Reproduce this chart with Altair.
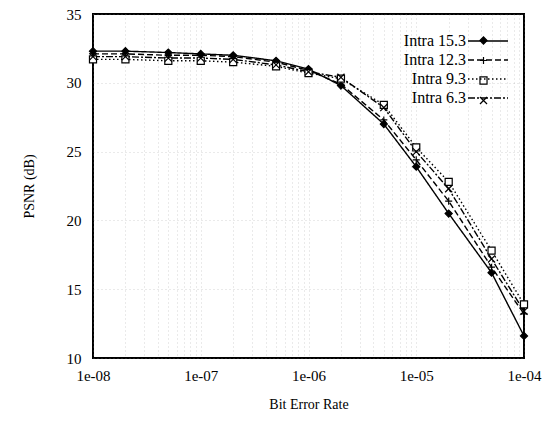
import altair as alt
import pandas as pd

ber = [1e-8, 2e-8, 5e-8, 1e-7, 2e-7, 5e-7, 1e-6, 2e-6, 5e-6, 1e-5, 2e-5, 5e-5, 1e-4]
series_names = ["Intra 15.3", "Intra 12.3", "Intra 9.3", "Intra 6.3"]
psnr_15_3 = [32.3, 32.3, 32.2, 32.1, 32.0, 31.6, 31.0, 29.8, 27.0, 23.9, 20.5, 16.2, 11.6]
psnr_12_3 = [32.1, 32.1, 32.0, 32.0, 31.9, 31.5, 30.9, 29.9, 27.3, 24.4, 21.4, 16.6, 13.2]
psnr_9_3 = [31.7, 31.7, 31.6, 31.6, 31.5, 31.2, 30.7, 30.3, 28.4, 25.3, 22.8, 17.8, 13.9]
psnr_6_3 = [31.9, 31.9, 31.8, 31.8, 31.7, 31.3, 30.8, 30.4, 28.2, 25.0, 22.3, 17.2, 13.4]
x_ticks = [m * 10.0 ** e for e in range(-8, -4) for m in range(1, 10)] + [1e-4]
y_ticks = [10, 15, 20, 25, 30, 35]

rows = []
for name, vals in zip(series_names, [psnr_15_3, psnr_12_3, psnr_9_3, psnr_6_3]):
    for b, v in zip(ber, vals):
        rows.append({"ber": b, "psnr": v, "series": name, "sym": name})
df = pd.DataFrame(rows)

font = "Liberation Serif"
xenc = alt.X("ber:Q", scale=alt.Scale(type="log", domain=[1e-8, 1e-4], nice=False),
             axis=alt.Axis(values=x_ticks, title="Bit Error Rate",
                           labelExpr="abs(datum.value / pow(10, round(log(datum.value)/LN10)) - 1) < 0.01 ? '1e-0' + (-round(log(datum.value)/LN10)) : ''",
                           labelPadding=10, titlePadding=14, ticks=False, domain=False,
                           labelFlush=False))
yenc = alt.Y("psnr:Q", scale=alt.Scale(domain=[10, 35], nice=False),
             axis=alt.Axis(values=y_ticks, title="PSNR (dB)", labelPadding=12, titlePadding=30,
                           ticks=False, domain=False))

dash_scale = alt.Scale(domain=series_names, range=[[1, 0], [6, 3], [1.5, 2.5], [7, 2, 2, 2]])
shape_scale = alt.Scale(domain=series_names,
                        range=["diamond", "M-1,0L1,0M0,-1L0,1", "square", "M-1,-1L1,1M-1,1L1,-1"])
fill_scale = alt.Scale(domain=series_names, range=["black", "white", "white", "white"])
stroke_scale = alt.Scale(domain=series_names, range=["black", "black", "black", "black"])

sym_legend = alt.Legend(title=None, orient="none", legendX=386, legendY=22,
                        symbolStrokeWidth=1.2, symbolSize=50,
                        labelExpr="''", labelFontSize=1,
                        rowPadding=7, padding=0)

lines = alt.Chart(df).mark_line(color="black", strokeWidth=1.4).encode(
    x=xenc, y=yenc,
    strokeDash=alt.StrokeDash("series:N", scale=dash_scale, sort=series_names,
                              legend=alt.Legend(title=None, orient="none", legendX=387, legendY=19,
                                                symbolType="M-10,0L10,0", symbolSize=16,
                                                symbolStrokeWidth=1.4, symbolStrokeColor="black",
                                                labelAlign="right", labelOffset={"expr": "-30"},
                                                labelFont=font, labelFontSize=16, labelColor="black",
                                                rowPadding=3, padding=0)),
)
points = alt.Chart(df).mark_point(filled=False, strokeWidth=1.2, size=50, opacity=1).encode(
    x=xenc, y=yenc,
    shape=alt.Shape("sym:N", scale=shape_scale, sort=series_names, legend=sym_legend),
    fill=alt.Fill("sym:N", scale=fill_scale, sort=series_names, legend=sym_legend),
    stroke=alt.Stroke("sym:N", scale=stroke_scale, sort=series_names, legend=sym_legend),
)

chart = alt.layer(lines, points).resolve_legend(strokeDash="independent").properties(
    width=431, height=344,
    autosize=alt.AutoSizeParams(type="none"),
    padding={"left": 85, "top": 6, "right": 27, "bottom": 63},
    background="white",
).configure_view(stroke="black", strokeWidth=2).configure_axis(
    labelFont=font, labelFontSize=15, labelColor="black",
    titleFont=font, titleFontSize=14, titleFontWeight="normal", titleColor="black",
    grid=True, gridColor="#888", gridDash=[1, 3], gridWidth=0.8, gridOpacity=0.45,
)

chart.save("out.html", embed_options={"renderer": "svg", "actions": False})
